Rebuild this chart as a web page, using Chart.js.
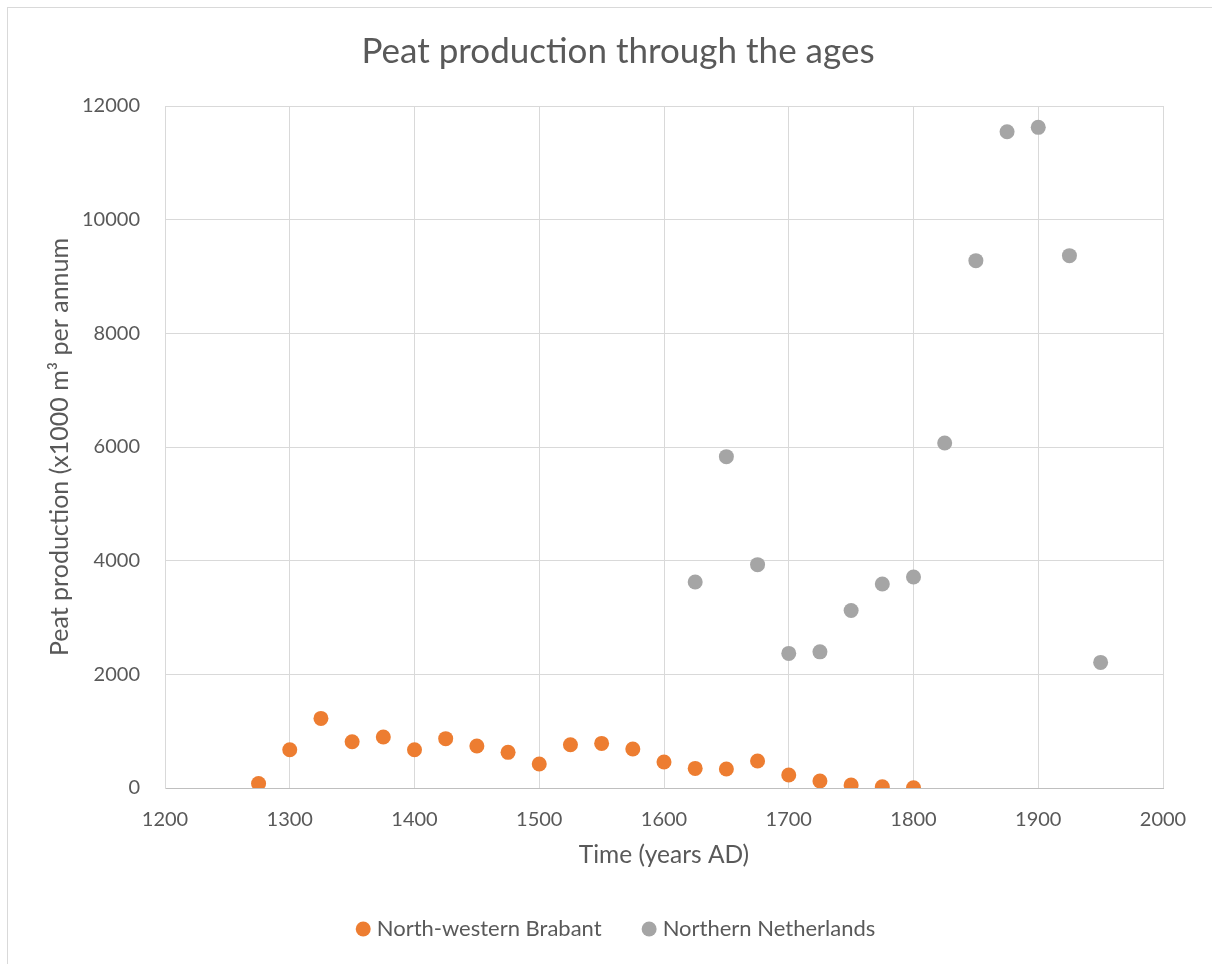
<!DOCTYPE html>
<html>
<head>
<meta charset="utf-8">
<title>Peat production through the ages</title>
<script src="https://cdn.jsdelivr.net/npm/chart.js@4.4.1/dist/chart.umd.min.js"></script>
<style>
  html, body { margin: 0; padding: 0; background: #fff; overflow: hidden; }
  #wrap { position: relative; width: 1212px; height: 964px; }
  #frame { position: absolute; left: 7px; top: 7px; width: 1300px; height: 1000px; border: 1px solid #d9d9d9; box-sizing: border-box; }
  #chart { position: absolute; left: 0; top: 0; }
</style>
</head>
<body>
<div id="wrap">
  <div id="frame"></div>
  <canvas id="chart" width="1212" height="964"></canvas>
</div>
<script>
// Years (AD) sampled every 25 years
const brabantYears = [1275, 1300, 1325, 1350, 1375, 1400, 1425, 1450, 1475, 1500, 1525, 1550, 1575,
                      1600, 1625, 1650, 1675, 1700, 1725, 1750, 1775, 1800];
// North-western Brabant, x1000 m³ per annum
const brabantValues = [80, 674, 1225, 815, 897, 674, 868, 739, 627, 422, 762, 785, 686,
                       457, 345, 334, 475, 229, 123, 53, 20, 5];

const northYears = [1625, 1650, 1675, 1700, 1725, 1750, 1775, 1800, 1825, 1850, 1875, 1900, 1925, 1950];
// Northern Netherlands, x1000 m³ per annum
const northValues = [3625, 5830, 3930, 2368, 2396, 3123, 3590, 3712, 6070, 9279, 11546, 11624, 9367, 2210];

const seriesNames = ['North-western Brabant', 'Northern Netherlands'];
const chartTitle = 'Peat production through the ages';
const xAxisTitle = 'Time (years AD)';
const yAxisTitle = 'Peat production (x1000 m³ per annum';

const toPoints = (xs, ys) => xs.map((x, i) => ({ x: x, y: ys[i] }));
const plainNumber = (v) => String(v);

const FONT = 'Lato, "Open Sans", sans-serif';
const TEXT = '#595959';
const GRID = '#d9d9d9';

new Chart(document.getElementById('chart'), {
  type: 'scatter',
  data: {
    datasets: [
      {
        label: seriesNames[0],
        data: toPoints(brabantYears, brabantValues),
        backgroundColor: '#ED7D31',
        borderWidth: 0,
        pointRadius: 7.5,
        pointHoverRadius: 7.5
      },
      {
        label: seriesNames[1],
        data: toPoints(northYears, northValues),
        backgroundColor: '#A5A5A5',
        borderWidth: 0,
        pointRadius: 7.5,
        pointHoverRadius: 7.5
      }
    ]
  },
  options: {
    responsive: false,
    animation: false,
    layout: { padding: { left: 24, right: 0, top: 0, bottom: 14 } },
    plugins: {
      tooltip: { enabled: false },
      title: {
        display: true,
        text: chartTitle,
        color: TEXT,
        font: { family: FONT, size: 35, weight: 'normal' },
        padding: { top: 31, bottom: 33 }
      },
      legend: {
        position: 'bottom',
        labels: {
          usePointStyle: true,
          pointStyle: 'circle',
          boxWidth: 5,
          boxHeight: 10.6,
          padding: 45,
          color: TEXT,
          font: { family: FONT, size: 22 }
        }
      }
    },
    scales: {
      x: {
        type: 'linear',
        min: 1200,
        max: 2000,
        ticks: { stepSize: 100, color: TEXT, padding: 20, font: { family: FONT, size: 20 }, callback: plainNumber },
        grid: { color: GRID, lineWidth: 1, drawTicks: false },
        border: { color: '#bfbfbf', width: 1 },
        title: {
          display: true,
          text: xAxisTitle,
          color: TEXT,
          font: { family: FONT, size: 24.5 },
          padding: { top: 0, bottom: 3 }
        },
        afterFit: (s) => { s.height = 85; }
      },
      y: {
        type: 'linear',
        min: 0,
        max: 12000,
        ticks: { stepSize: 2000, color: TEXT, padding: 25, font: { family: FONT, size: 20 }, callback: plainNumber },
        grid: { color: GRID, lineWidth: 1, drawTicks: false },
        border: { color: GRID, width: 1 },
        title: {
          display: true,
          text: yAxisTitle,
          color: TEXT,
          font: { family: FONT, size: 25 },
          padding: { top: 21, bottom: 0 }
        },
        afterFit: (s) => { s.width = 141; }
      },
      // keeps room on the right of the plot
      yRight: {
        position: 'right',
        display: true,
        grid: { display: false },
        border: { display: false },
        ticks: { display: false },
        afterFit: (s) => { s.width = 49; }
      }
    }
  }
});
</script>
</body>
</html>
